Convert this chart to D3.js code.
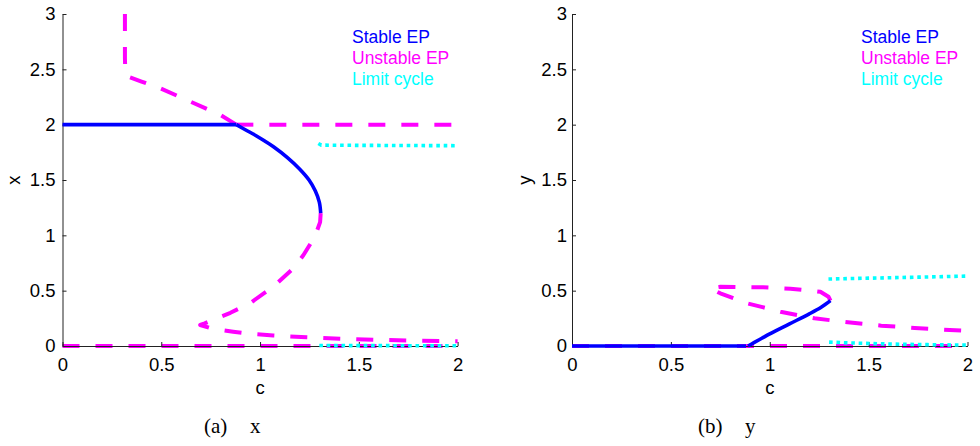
<!DOCTYPE html>
<html>
<head>
<meta charset="utf-8">
<script src="https://cdn.jsdelivr.net/npm/d3@7"></script>
<style>
  html, body { margin: 0; padding: 0; background: #fff; }
  svg { display: block; }
</style>
</head>
<body>
<svg id="chart" width="980" height="446"></svg>
<script>
// ---------- data ----------
const cTicks = [0, 0.5, 1, 1.5, 2];
const cTickLabels = ["0", "0.5", "1", "1.5", "2"];
const vTicks = [0, 0.5, 1, 1.5, 2, 2.5, 3];
const vTickLabels = ["0", "0.5", "1", "1.5", "2", "2.5", "3"];
const legendLabels = ["Stable EP", "Unstable EP", "Limit cycle"];
const panelTags = ["(a)", "(b)"];
const panelNames = ["x", "y"];
const panelYLabels = ["x", "y"];
const xLabel = "c";

// Panel (a): x vs c   -- points are [c, value]
const xStableTop = [[0, 2], [0.88, 2]];
const xStableFold = [[0.88, 2.0], [0.93, 1.95], [0.98, 1.9], [1.025, 1.85], [1.068, 1.8],
  [1.14, 1.7], [1.2, 1.6], [1.248, 1.5], [1.28, 1.4], [1.3, 1.3], [1.307, 1.2]];
const xUnstableTop = [[0.316, 3.0], [0.316, 2.6], [0.318, 2.47], [0.324, 2.44], [0.40, 2.39],
  [0.493, 2.33], [0.645, 2.21], [0.797, 2.09], [0.88, 2.0]];
const xUnstableTwo = [[0.88, 2], [2, 2]];
const xUnstableFold = [[1.307, 1.20], [1.304, 1.12], [1.278, 0.99], [1.219, 0.82], [1.168, 0.70],
  [1.067, 0.536], [0.949, 0.386], [0.85, 0.30], [0.78, 0.25], [0.72, 0.205], [0.697, 0.19],
  [0.76, 0.155], [0.864, 0.129], [0.95, 0.11], [1.067, 0.095], [1.236, 0.079], [1.405, 0.066],
  [1.59, 0.056], [1.776, 0.049], [2.0, 0.043]];
const xUnstableZero = [[0, 0], [2, 0]];
const xCycleUpper = [[1.295, 1.83], [1.31, 1.815], [1.5, 1.813], [2.0, 1.81]];
const xCycleLower = [[1.3, 0.004], [2.0, 0.002]];

// Panel (b): y vs c
const yStableZero = [[0, 0], [0.88, 0]];
const yStableRise = [[0.89, 0], [0.92, 0.03], [0.96, 0.07], [1.0, 0.11], [1.1, 0.20],
  [1.2, 0.29], [1.26, 0.35], [1.307, 0.41]];
const yUnstableZero = [[0, 0], [2, 0]];
const yUnstableLoop = [[1.307, 0.41], [1.297, 0.445], [1.256, 0.49], [1.2, 0.502], [1.104, 0.518],
  [0.966, 0.53], [0.85, 0.532], [0.75, 0.535], [0.70, 0.52], [0.716, 0.506], [0.75, 0.476],
  [0.885, 0.386], [1.054, 0.31], [1.226, 0.25], [1.395, 0.214], [1.564, 0.184], [1.733, 0.163],
  [1.91, 0.145], [2.0, 0.138]];
const yCycleUpper = [[1.297, 0.605], [1.5, 0.613], [1.75, 0.622], [2.0, 0.632]];
const yCycleLower = [[1.3, 0.035], [1.4, 0.028], [1.6, 0.018], [1.8, 0.012], [2.0, 0.008]];

// ---------- drawing ----------
const colors = { stable: "#0000ff", unstable: "#ff00ff", cycle: "#00ffff" };
const sans = "'Liberation Sans', Arial, Helvetica, sans-serif";
const serif = "'Liberation Serif', 'DejaVu Serif', serif";
const svg = d3.select("#chart");

const panels = [
  { left: 62.5, right: 457.6, labelPad: 7, yLabelX: 20, tagX: 204, nameX: 250,
    stable: [xStableTop, xStableFold],
    unstable: [xUnstableZero, xUnstableTop, xUnstableTwo, xUnstableFold],
    cycle: [xCycleUpper, xCycleLower], legendX: 352 },
  { left: 572, right: 967.5, labelPad: 5, yLabelX: 531, tagX: 698, nameX: 745,
    stable: [yStableZero, yStableRise],
    unstable: [yUnstableZero, yUnstableLoop],
    cycle: [yCycleUpper, yCycleLower], legendX: 861 }
];

const plotTop = 14, plotBottom = 346;

panels.forEach((p, i) => {
  const xs = d3.scaleLinear().domain([0, 2]).range([p.left, p.right]);
  const ys = d3.scaleLinear().domain([0, 3]).range([plotBottom, plotTop]);
  const g = svg.append("g");

  const line = d3.line().x(d => xs(d[0])).y(d => ys(d[1]));
  const smooth = d3.line().x(d => xs(d[0])).y(d => ys(d[1])).curve(d3.curveCatmullRom.alpha(0.5));

  // unstable (dashed)
  p.unstable.forEach(s => g.append("path").datum(s).attr("d", line)
    .attr("fill", "none").attr("stroke", colors.unstable).attr("stroke-width", 4)
    .attr("stroke-dasharray", "17,16").attr("stroke-linejoin", "round"));

  // axes
  const xa = d3.axisBottom(xs).tickValues(cTicks).tickFormat((d, k) => cTickLabels[k])
    .tickSizeInner(-4).tickSizeOuter(0).tickPadding(12);
  const ya = d3.axisLeft(ys).tickValues(vTicks).tickFormat((d, k) => vTickLabels[k])
    .tickSizeInner(-4).tickSizeOuter(0).tickPadding(p.labelPad);
  const gx = g.append("g").attr("transform", `translate(0,${plotBottom})`).call(xa);
  const gy = g.append("g").attr("transform", `translate(${p.left},0)`).call(ya);
  [gx, gy].forEach(a => {
    a.selectAll("text").style("font-size", "18.5px").style("font-family", sans).attr("fill", "#000");
    a.selectAll("line").attr("stroke", "#222");
    a.select(".domain").attr("stroke", "#222");
  });

  // stable (solid)
  p.stable.forEach(s => g.append("path").datum(s).attr("d", smooth)
    .attr("fill", "none").attr("stroke", colors.stable).attr("stroke-width", 3.6)
    .attr("stroke-linejoin", "round"));

  // limit cycle (dotted)
  p.cycle.forEach(s => g.append("path").datum(s).attr("d", line)
    .attr("fill", "none").attr("stroke", colors.cycle).attr("stroke-width", 3.6)
    .attr("stroke-dasharray", "3.6,3.8"));

  // axis labels
  g.append("text").attr("x", (p.left + p.right) / 2).attr("y", 394)
    .attr("text-anchor", "middle").style("font-family", sans).style("font-size", "18.5px").text(xLabel);
  g.append("text").attr("transform", `translate(${p.yLabelX},${180}) rotate(-90)`)
    .attr("text-anchor", "middle").style("font-family", sans).style("font-size", "18.5px").text(panelYLabels[i]);

  // legend
  const lc = [colors.stable, colors.unstable, colors.cycle];
  legendLabels.forEach((t, k) => {
    g.append("text").attr("x", p.legendX).attr("y", 43 + k * 21)
      .style("font-family", sans).style("font-size", "17.5px").attr("fill", lc[k]).text(t);
  });

  // caption
  g.append("text").attr("x", p.tagX).attr("y", 433)
    .style("font-family", serif).style("font-size", "21px").text(panelTags[i]);
  g.append("text").attr("x", p.nameX).attr("y", 433)
    .style("font-family", serif).style("font-size", "21px").text(panelNames[i]);
});
</script>
</body>
</html>
